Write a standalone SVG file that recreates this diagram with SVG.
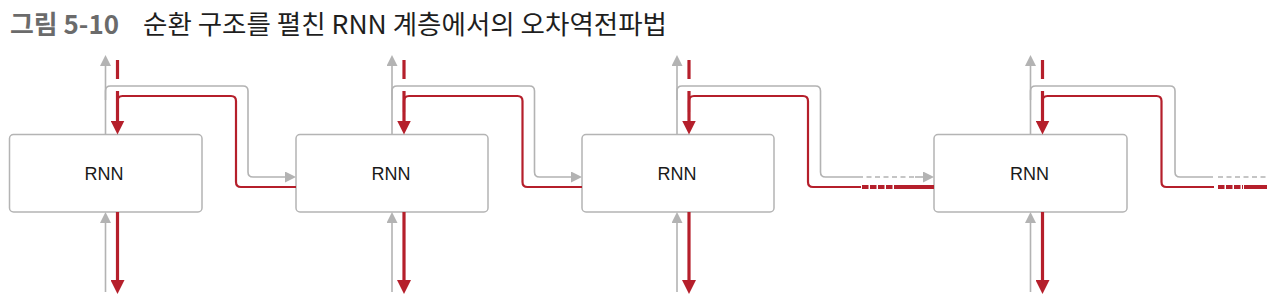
<svg xmlns="http://www.w3.org/2000/svg" width="1280" height="306" viewBox="0 0 1280 306">
<style>
.box{fill:#fff;stroke:#b4b4b4;stroke-width:1.5}
.lbl{font-family:"Liberation Sans",Arial,sans-serif;font-size:19px;fill:#1a1a1a;text-anchor:middle}
.g{fill:none;stroke:#b3b3b3;stroke-width:1.6}
.gd{fill:none;stroke:#b3b3b3;stroke-width:1.6;stroke-dasharray:5 3.5}
.r{fill:none;stroke:#b51f2b;stroke-width:3.2}
.rl{fill:none;stroke:#b51f2b;stroke-width:2.2}
.rt{fill:none;stroke:#b51f2b;stroke-width:4}
.rd{fill:none;stroke:#b51f2b;stroke-width:4;stroke-dasharray:6.5 1.5}
</style>
<defs>
<marker id="ah-r" viewBox="0 0 14 14" refX="8" refY="7" markerWidth="14" markerHeight="14" markerUnits="userSpaceOnUse" orient="auto"><path d="M0,0 L14,7 L0,14 Z" fill="#b51f2b"/></marker>
<marker id="ah-g" viewBox="0 0 11 11" refX="6" refY="5.5" markerWidth="11" markerHeight="11" markerUnits="userSpaceOnUse" orient="auto"><path d="M0,0 L11,5.5 L0,11 Z" fill="#b3b3b3"/></marker>
</defs>
<g id="title">
<text x="10" y="34" font-family="'Noto Sans CJK KR','Liberation Sans',sans-serif" font-size="26" font-weight="bold" fill="#6b6b6b" textLength="109" lengthAdjust="spacingAndGlyphs">그림 5-10</text>
<text x="143" y="34" font-family="'Noto Sans CJK KR','Liberation Sans',sans-serif" font-size="26" fill="#1e1e1e" textLength="524" lengthAdjust="spacingAndGlyphs">순환 구조를 펼친 RNN 계층에서의 오차역전파법</text>
</g>
<g id="rnn1"><rect class="box" x="9.5" y="134.5" width="192.5" height="77.5" rx="4"/><text class="lbl" x="104" y="180" textLength="39" lengthAdjust="spacingAndGlyphs">RNN</text></g>
<g id="rnn2"><rect class="box" x="296" y="134.5" width="192" height="77.5" rx="4"/><text class="lbl" x="391" y="180" textLength="39" lengthAdjust="spacingAndGlyphs">RNN</text></g>
<g id="rnn3"><rect class="box" x="582" y="134.5" width="192" height="77.5" rx="4"/><text class="lbl" x="677" y="180" textLength="39" lengthAdjust="spacingAndGlyphs">RNN</text></g>
<g id="rnn4"><rect class="box" x="934" y="134.5" width="193" height="77.5" rx="4"/><text class="lbl" x="1029.5" y="180" textLength="39" lengthAdjust="spacingAndGlyphs">RNN</text></g>
<g id="connectors">
<path class="g" d="M105.5,134.5 V60" marker-end="url(#ah-g)"/>
<path class="g" d="M105.5,292 V217" marker-end="url(#ah-g)"/>
<path class="r" d="M117.5,60 V79"/>
<path class="r" d="M117.5,91 V128.5" marker-end="url(#ah-r)"/>
<path class="r" d="M117.5,212 V288" marker-end="url(#ah-r)"/>
<path class="g" d="M105.5,100 V91 Q105.5,86 110.5,86 H243 Q248,86 248,91 V172 Q248,177 253,177 H291" marker-end="url(#ah-g)"/>
<path class="rl" d="M296,187 H241 Q236,187 236,182 V101 Q236,96 231,96 H122.5 Q117.5,96 117.5,101 V112"/>
<path class="g" d="M392,134.5 V60" marker-end="url(#ah-g)"/>
<path class="g" d="M392,292 V217" marker-end="url(#ah-g)"/>
<path class="r" d="M404,60 V79"/>
<path class="r" d="M404,91 V128.5" marker-end="url(#ah-r)"/>
<path class="r" d="M404,212 V288" marker-end="url(#ah-r)"/>
<path class="g" d="M392,100 V91 Q392,86 397,86 H529.5 Q534.5,86 534.5,91 V172 Q534.5,177 539.5,177 H577" marker-end="url(#ah-g)"/>
<path class="rl" d="M582,187 H527.5 Q522.5,187 522.5,182 V101 Q522.5,96 517.5,96 H409 Q404,96 404,101 V112"/>
<path class="g" d="M677,134.5 V60" marker-end="url(#ah-g)"/>
<path class="g" d="M677,292 V217" marker-end="url(#ah-g)"/>
<path class="r" d="M689,60 V79"/>
<path class="r" d="M689,91 V128.5" marker-end="url(#ah-r)"/>
<path class="r" d="M689,212 V288" marker-end="url(#ah-r)"/>
<path class="g" d="M677,100 V91 Q677,86 682,86 H815.5 Q820.5,86 820.5,91 V172 Q820.5,177 825.5,177 H858"/>
<path class="gd" d="M858,177 H915"/>
<path class="g" d="M915,177 H929" marker-end="url(#ah-g)"/>
<path class="rl" d="M861,187 H813 Q808,187 808,182 V101 Q808,96 803,96 H694 Q689,96 689,101 V112"/>
<path class="rd" d="M862,187 H900"/>
<path class="rt" d="M900,187 H934"/>
<path class="g" d="M1030.5,134.5 V60" marker-end="url(#ah-g)"/>
<path class="g" d="M1030.5,292 V217" marker-end="url(#ah-g)"/>
<path class="r" d="M1042.5,60 V79"/>
<path class="r" d="M1042.5,91 V128.5" marker-end="url(#ah-r)"/>
<path class="r" d="M1042.5,212 V288" marker-end="url(#ah-r)"/>
<path class="g" d="M1030.5,100 V91 Q1030.5,86 1035.5,86 H1170 Q1175,86 1175,91 V172 Q1175,177 1180,177 H1213"/>
<path class="gd" d="M1218,177 H1267"/>
<path class="rl" d="M1214,187 H1166.5 Q1161.5,187 1161.5,182 V101 Q1161.5,96 1156.5,96 H1047.5 Q1042.5,96 1042.5,101 V112"/>
<path class="rd" d="M1218,187 H1243"/>
<path class="rt" d="M1244,187 H1267"/>
</g>
</svg>
